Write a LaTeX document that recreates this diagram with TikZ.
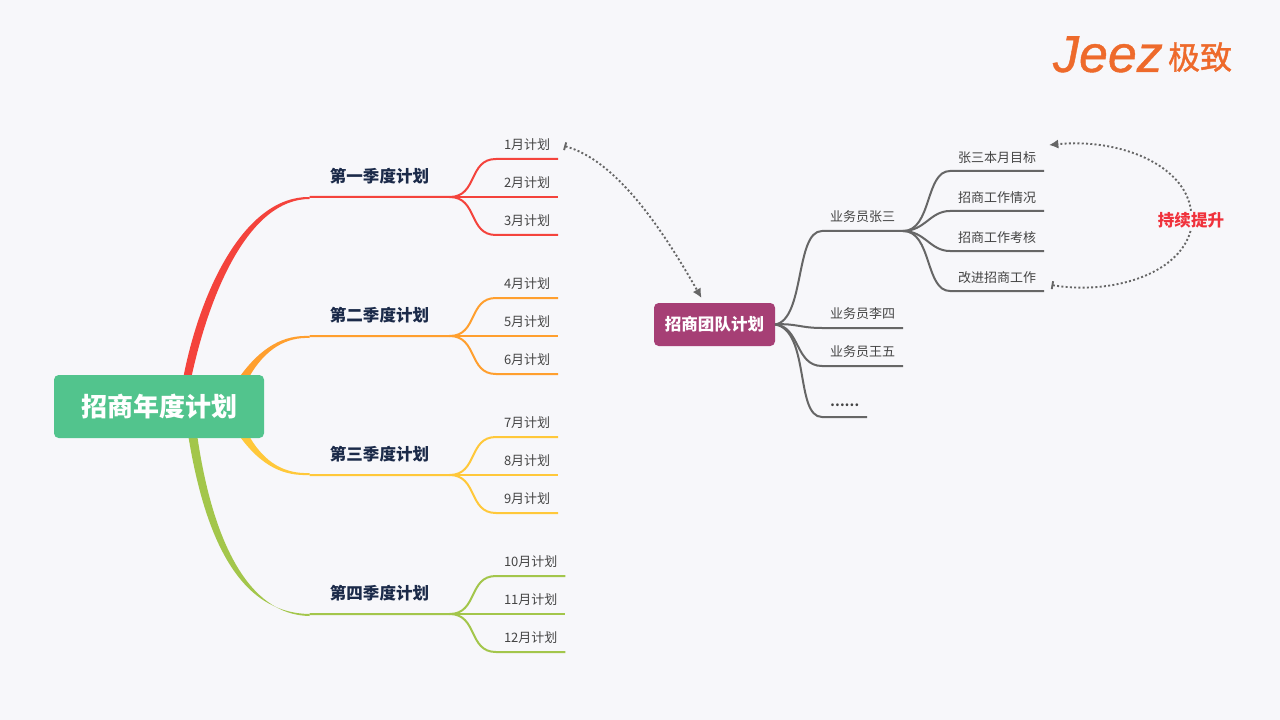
\documentclass[tikz,border=0pt]{standalone}
\usepackage{fontspec}
\setmainfont{Noto Sans CJK SC}
\newfontfamily\logofont[ItalicFeatures={FakeBold=0.8}]{Liberation Sans}
\newfontfamily\logocjk[FakeBold=1.2]{Noto Sans CJK SC}
\usepackage{xcolor}
\usetikzlibrary{positioning,arrows.meta,calc,backgrounds}
\definecolor{pagebg}{HTML}{F7F7FA}
\definecolor{qred}{HTML}{F4433C}
\definecolor{qorange}{HTML}{FF9F2E}
\definecolor{qyellow}{HTML}{FFC83A}
\definecolor{qgreen}{HTML}{A3C64B}
\definecolor{rootgreen}{HTML}{52C48D}
\definecolor{teampurple}{HTML}{A63F75}
\definecolor{qnavy}{HTML}{1B2A49}
\definecolor{leafgray}{HTML}{444444}
\definecolor{linkgray}{HTML}{666666}
\definecolor{logoorange}{HTML}{EE6A2B}
\definecolor{keepred}{HTML}{F0323C}

\begin{document}
\begin{tikzpicture}[
  x=0.75pt, y=-0.75pt,
  node distance=6pt,
  outer sep=0pt,
  root/.style={fill=rootgreen, text=white, rounded corners=3.5pt, font=\fontsize{19.5}{23}\selectfont\bfseries, minimum width=157.5pt, minimum height=47.25pt},
  team/.style={fill=teampurple, text=white, rounded corners=3.5pt, font=\fontsize{12.4}{15}\selectfont\bfseries, minimum width=90.75pt, minimum height=32.25pt},
  quarter/.style={font=\fontsize{12.4}{15}\selectfont\bfseries, text=qnavy, minimum height=31.5pt, minimum width=105pt, inner sep=0pt},
  month/.style={font=\fontsize{9.75}{12}\selectfont, text=leafgray, minimum height=21.75pt, inner xsep=6pt, inner ysep=0pt, anchor=west},
  staff/.style={month},
  task/.style={month, minimum height=20.25pt},
  under/.style={below=6.75pt of #1.south west, anchor=north west},
  lnk/.style={line width=1.5pt, line join=round},
  rel/.style={linkgray, line width=1.4pt, dash pattern=on 1.5pt off 1.7pt}
]
\useasboundingbox (0,0) rectangle (1280,720);
\node[root] (Root) at (159,406.5) {招商年度计划};
\node[team] (Team) at (714.5,324.5) {招商团队计划};
\node[quarter] (Q1) at (379.5,176) {第一季度计划};
\node[quarter] (Q2) at (379.5,315) {第二季度计划};
\node[quarter] (Q3) at (379.5,454) {第三季度计划};
\node[quarter] (Q4) at (379.5,593) {第四季度计划};
\node[month] (M1) at (496,144.5) {1月计划};
\node[month, under=M1] (M2) {2月计划};
\node[month, under=M2] (M3) {3月计划};
\node[month] (M4) at (496,283.5) {4月计划};
\node[month, under=M4] (M5) {5月计划};
\node[month, under=M5] (M6) {6月计划};
\node[month] (M7) at (496,422.5) {7月计划};
\node[month, under=M7] (M8) {8月计划};
\node[month, under=M8] (M9) {9月计划};
\node[month] (M10) at (496,561.5) {10月计划};
\node[month, under=M10] (M11) {11月计划};
\node[month, under=M11] (M12) {12月计划};
\node[staff] (S1) at (822,216.5) {业务员张三};
\node[staff] (S2) at (822,313.5) {业务员李四};
\node[staff, under=S2] (S3) {业务员王五};
\node[staff, minimum height=18pt, font=\fontsize{9.75}{12}\selectfont\bfseries, below=20.25pt of S3.south west, anchor=north west] (S4) {……};
\node[task] (L1) at (950,157.5) {张三本月目标};
\node[task, below=9.75pt of L1.south west, anchor=north west] (L2) {招商工作情况};
\node[task, below=9.75pt of L2.south west, anchor=north west] (L3) {招商工作考核};
\node[task, below=9.75pt of L3.south west, anchor=north west] (L4) {改进招商工作};
\node[font=\fontsize{12.4}{15}\selectfont\bfseries, text=keepred, inner sep=1pt] (Keep) at (1191,220) {持续提升};
\node[font=\logofont\itshape\fontsize{39}{39}\selectfont, text=logoorange, anchor=base west, inner sep=0pt] (LogoA) at (1053,72) {Jeez};
\node[font=\logocjk\fontsize{24}{24}\selectfont, text=logoorange, inner sep=0pt] (LogoB) at (1200,57) {极致};
\begin{scope}[on background layer]
\fill[pagebg] (0,0) rectangle (1280,720);
\fill[qred] ($(Root.north)+(24,4)$) .. controls (200,290) and (245,196) .. (Q1.south west) -- ++(0,2) .. controls (250,199) and (210,290) .. ($(Root.north)+(32,4)$) -- cycle;
\fill[qorange] ($(Root.north east)+(-26,4)$) .. controls (262,345) and (285,335) .. (Q2.south west) -- ++(0,2) .. controls (287,337) and (265,348) .. ($(Root.north east)+(-16,4)$) -- cycle;
\fill[qyellow] ($(Root.south east)+(-26,-4)$) .. controls (262,468) and (285,476) .. (Q3.south west) -- ++(0,-2) .. controls (287,474) and (265,465) .. ($(Root.south east)+(-16,-4)$) -- cycle;
\fill[qgreen] ($(Root.south)+(29,-4)$) .. controls (205,540) and (240,613) .. (Q4.south west) -- ++(0,2) .. controls (248,615) and (212,540) .. ($(Root.south)+(38,-4)$) -- cycle;
\end{scope}
\draw[lnk, qred] (Q1.south west) -- (Q1.south east) .. controls (478,197) and (468,159) .. (M1.south west) -- (M1.south east);
\draw[lnk, qred] (Q1.south east) -- (M2.south west) -- (M2.south east);
\draw[lnk, qred] (Q1.south east) .. controls (478,197) and (468,235) .. (M3.south west) -- (M3.south east);
\draw[lnk, qorange] (Q2.south west) -- (Q2.south east) .. controls (478,336) and (468,298) .. (M4.south west) -- (M4.south east);
\draw[lnk, qorange] (Q2.south east) -- (M5.south west) -- (M5.south east);
\draw[lnk, qorange] (Q2.south east) .. controls (478,336) and (468,374) .. (M6.south west) -- (M6.south east);
\draw[lnk, qyellow] (Q3.south west) -- (Q3.south east) .. controls (478,475) and (468,437) .. (M7.south west) -- (M7.south east);
\draw[lnk, qyellow] (Q3.south east) -- (M8.south west) -- (M8.south east);
\draw[lnk, qyellow] (Q3.south east) .. controls (478,475) and (468,513) .. (M9.south west) -- (M9.south east);
\draw[lnk, qgreen] (Q4.south west) -- (Q4.south east) .. controls (478,614) and (468,576) .. (M10.south west) -- (M10.south east);
\draw[lnk, qgreen] (Q4.south east) -- (M11.south west) -- (M11.south east);
\draw[lnk, qgreen] (Q4.south east) .. controls (478,614) and (468,652) .. (M12.south west) -- (M12.south east);
\draw[lnk, linkgray] (Team.east) .. controls (805,320) and (795,231) .. (S1.south west) -- (S1.south east);
\draw[lnk, linkgray] (Team.east) .. controls (795,323) and (800,328) .. (S2.south west) -- (S2.south east);
\draw[lnk, linkgray] (Team.east) .. controls (800,326) and (795,366) .. (S3.south west) -- (S3.south east);
\draw[lnk, linkgray] (Team.east) .. controls (810,330) and (795,417) .. (S4.south west) -- (S4.south east);
\draw[lnk, linkgray] (S1.south east) .. controls (932,231) and (925,171) .. (L1.south west) -- (L1.south east);
\draw[lnk, linkgray] (S1.south east) .. controls (925,231) and (930,211) .. (L2.south west) -- (L2.south east);
\draw[lnk, linkgray] (S1.south east) .. controls (925,231) and (930,251) .. (L3.south west) -- (L3.south east);
\draw[lnk, linkgray] (S1.south east) .. controls (932,231) and (925,291) .. (L4.south west) -- (L4.south east);
\draw[rel, {Bar[width=6pt,length=1pt]}-{Latex[length=7pt,width=7pt]}] ($(M1.east)+(6,1.5)$) .. controls (615,160) and (660,225) .. ($(Team.north)+(-13,-5)$);
\draw[rel, {Bar[width=6pt,length=1pt]}-] ($(L4.south east)+(7.5,-6)$) .. controls (1110,295) and (1180,275) .. (Keep.south);
\draw[rel, -{Latex[length=7pt,width=7pt]}] (Keep.north) .. controls (1185,165) and (1120,138) .. ($(L1.north east)+(5,1)$);
\end{tikzpicture}
\end{document}
